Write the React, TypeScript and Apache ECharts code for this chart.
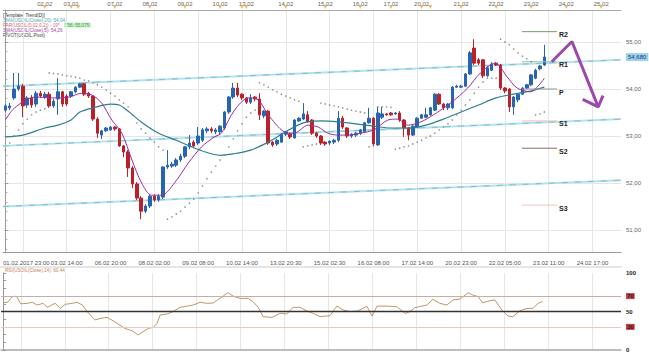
import React, { useEffect, useRef } from "react";
import * as echarts from "echarts";

// ---------- data ----------
const SLOT_COUNT = 141; // candle slots on the time axis (incl. empty future)
const bottomLabels = [
  "01.02.2017 23:00", "03.02 14:00", "06.02 20:00", "08.02 02:00", "09.02 08:00",
  "10.02 14:00", "13.02 20:30", "15.02 02:30", "16.02 08:00", "17.02 14:00",
  "20.02 23:00", "22.02 05:00", "23.02 11:00", "24.02 17:00",
];
const bottomLabelStart = 4;
const bottomLabelStep = 10;
const topLabels = ["02.02", "03.02", "07.02", "08.02", "09.02", "10.02", "13.02", "14.02", "15.02", "16.02", "17.02", "20.02", "21.02", "22.02", "23.02", "24.02", "25.02"];
const topLabelSlots = [9, 15, 25, 33, 41, 49, 55, 64, 73, 81, 88, 95, 104, 112, 120, 128, 136];
const markerSlots = [9, 15, 16.6, 25, 33, 41, 49, 54, 55, 64, 73, 81, 88, 95, 97, 104, 112, 120, 128, 136];

// [open, close, low, high]
const candles = [
  [53.55, 53.64, 53.51, 53.68], [53.60, 53.64, 53.55, 53.70], [53.81, 54.00, 53.77, 54.34], [54.00, 54.06, 53.96, 54.34],
  [54.06, 53.64, 53.40, 54.11], [53.66, 53.81, 53.60, 53.85], [53.81, 53.66, 53.60, 53.87], [53.68, 53.91, 53.62, 53.96],
  [53.91, 53.85, 53.81, 53.96], [53.83, 53.89, 53.79, 53.94], [53.89, 53.64, 53.60, 53.94], [53.64, 53.74, 53.60, 53.79],
  [53.79, 53.94, 53.45, 54.23], [53.94, 53.68, 53.62, 53.96], [53.85, 53.68, 53.64, 53.89], [53.85, 53.94, 53.81, 53.96],
  [53.94, 54.04, 53.91, 54.06], [54.04, 54.11, 54.02, 54.13], [54.11, 53.89, 53.85, 54.13], [53.91, 53.85, 53.81, 53.94],
  [53.85, 53.36, 53.32, 53.87], [53.36, 53.06, 52.96, 53.40], [53.02, 53.11, 52.94, 53.13], [53.11, 53.17, 53.09, 53.19],
  [53.13, 53.19, 53.11, 53.21], [53.19, 53.15, 53.11, 53.21], [53.15, 52.79, 52.77, 53.17], [52.79, 52.66, 52.55, 52.81],
  [52.66, 52.32, 52.13, 52.70], [52.32, 51.98, 51.89, 52.36], [51.98, 51.68, 51.64, 52.02], [51.68, 51.40, 51.23, 51.72],
  [51.40, 51.51, 51.36, 51.55], [51.51, 51.72, 51.47, 51.76], [51.72, 51.64, 51.60, 51.76], [51.64, 51.72, 51.60, 51.76],
  [51.70, 52.34, 51.66, 52.36], [52.34, 52.38, 52.30, 52.70], [52.36, 52.40, 52.32, 52.45], [52.38, 52.49, 52.34, 52.53],
  [52.49, 52.57, 52.45, 52.62], [52.57, 52.77, 52.53, 52.79], [52.77, 52.85, 52.72, 53.02], [52.87, 52.79, 52.74, 52.91],
  [52.85, 53.00, 52.81, 53.19], [52.91, 53.13, 52.87, 53.17], [53.11, 53.15, 53.06, 53.19], [53.15, 53.11, 53.06, 53.19],
  [53.09, 53.13, 53.04, 53.17], [53.09, 53.21, 53.04, 53.23], [53.17, 53.51, 53.13, 53.53], [53.51, 53.83, 53.47, 53.85],
  [53.83, 54.02, 53.79, 54.13], [54.02, 53.87, 53.83, 54.13], [53.89, 53.81, 53.77, 53.91], [53.81, 53.72, 53.68, 53.83],
  [53.72, 53.81, 53.68, 53.89], [53.83, 53.79, 53.74, 53.85], [53.79, 53.45, 53.34, 53.91], [53.43, 53.53, 53.38, 53.55],
  [53.53, 52.85, 52.81, 53.55], [52.87, 52.81, 52.77, 52.89], [52.83, 52.91, 52.79, 52.94], [52.87, 53.04, 52.85, 53.06],
  [53.04, 53.09, 53.00, 53.11], [53.04, 52.98, 52.94, 53.06], [52.96, 53.34, 52.94, 53.36], [53.32, 53.38, 53.30, 53.40],
  [53.36, 53.47, 53.34, 53.70], [53.45, 53.30, 53.28, 53.53], [53.34, 53.06, 53.02, 53.36], [53.06, 53.00, 52.96, 53.09],
  [53.00, 52.85, 52.81, 53.02], [52.87, 52.83, 52.79, 52.89], [52.85, 52.89, 52.81, 52.91], [52.87, 52.91, 52.83, 52.94],
  [52.91, 53.38, 52.87, 53.53], [53.38, 53.19, 53.15, 53.43], [53.17, 53.00, 52.96, 53.19], [53.00, 53.04, 52.96, 53.06],
  [53.02, 53.06, 52.98, 53.09], [53.06, 53.13, 53.02, 53.15], [53.09, 53.28, 53.06, 53.30], [53.28, 53.38, 53.26, 53.60],
  [53.38, 52.83, 52.79, 53.40], [52.81, 53.49, 52.79, 53.62], [53.40, 53.47, 53.36, 53.62], [53.47, 53.45, 53.43, 53.49],
  [53.49, 53.45, 53.43, 53.51], [53.47, 53.49, 53.45, 53.51], [53.49, 53.34, 53.30, 53.53], [53.34, 53.17, 52.98, 53.36],
  [53.17, 53.02, 52.91, 53.19], [53.02, 53.21, 53.00, 53.23], [53.19, 53.38, 53.17, 53.40], [53.38, 53.45, 53.36, 53.47],
  [53.40, 53.45, 53.38, 53.60], [53.45, 53.60, 53.43, 53.62], [53.55, 53.89, 53.53, 53.91], [53.89, 53.68, 53.66, 53.91],
  [53.68, 53.60, 53.55, 53.70], [53.60, 53.68, 53.55, 53.70], [53.60, 54.04, 53.57, 54.06], [54.04, 54.06, 54.02, 54.09],
  [54.04, 54.06, 54.02, 54.09], [54.06, 54.32, 54.04, 54.34], [54.32, 54.77, 54.30, 54.81], [54.87, 54.55, 54.51, 55.06],
  [54.62, 54.55, 54.51, 54.66], [54.62, 54.28, 54.23, 54.64], [54.28, 54.45, 54.26, 54.49], [54.40, 54.53, 54.38, 54.57],
  [54.55, 54.51, 54.49, 54.57], [54.51, 54.02, 53.98, 54.53], [54.02, 53.96, 53.91, 54.04], [54.00, 53.62, 53.51, 54.02],
  [53.62, 53.83, 53.45, 53.85], [53.77, 53.89, 53.72, 53.91], [53.89, 54.02, 53.87, 54.04], [54.02, 54.09, 54.00, 54.11],
  [54.09, 54.30, 54.06, 54.32], [54.23, 54.40, 54.21, 54.43], [54.43, 54.49, 54.40, 54.51], [54.51, 54.68, 54.49, 54.94],
];

// Parabolic SAR, one value per candle
const sar = [
  52.70, 52.85, 53.00, 53.13, 53.26, 53.36, 53.45, 53.51, 53.55, 53.58,
  54.34, 54.33, 54.32, 54.30, 54.28, 54.27, 54.25, 54.23, 54.19, 54.17,
  54.13, 54.09, 54.04, 53.98, 53.91, 53.85, 53.77, 53.70, 53.62, 53.45,
  53.28, 53.15, 53.06, 52.96, 52.87, 52.77, 52.70, 51.23, 51.28, 51.34,
  51.40, 51.49, 51.57, 51.66, 51.79, 51.94, 52.09, 52.23, 52.36, 52.49,
  52.60, 52.77, 52.94, 53.11, 53.26, 53.40, 53.49, 53.55, 54.13, 54.09,
  54.04, 53.98, 53.94, 53.89, 53.85, 53.81, 53.77, 53.74, 52.77, 52.79,
  52.81, 52.83, 53.70, 53.68, 53.66, 53.64, 53.62, 53.60, 53.57, 53.55,
  53.53, 53.51, 53.49, 52.77, 52.79, 53.62, 53.62, 53.62, 53.61, 52.72,
  52.74, 52.77, 52.79, 52.83, 52.87, 52.91, 52.96, 53.00, 53.06, 53.13,
  53.19, 53.26, 53.34, 53.45, 53.55, 53.66, 53.77, 53.91, 54.04, 54.15,
  54.23, 54.23, 54.23, 55.06, 55.00, 54.94, 54.85, 54.77, 54.70, 54.64,
  54.58, 53.45, 53.47, 53.51,
];

// [slot, value]
const sma20 = [
  [0, 52.98], [4, 53.02], [9, 53.17], [12, 53.23], [15, 53.34], [17, 53.51], [20, 53.60], [24, 53.68],
  [26, 53.66], [28, 53.53], [31, 53.30], [35, 53.06], [39, 52.91], [42, 52.79], [45, 52.68], [49, 52.59],
  [52, 52.62], [56, 52.70], [60, 52.87], [64, 53.09], [68, 53.28], [72, 53.32], [76, 53.30], [80, 53.26],
  [84, 53.21], [88, 53.17], [92, 53.17], [96, 53.23], [100, 53.36], [104, 53.51], [108, 53.66], [112, 53.81],
  [116, 53.89], [120, 53.96], [123, 54.04],
];
const sma5 = [
  [0, 53.34], [1.6, 53.55], [3.9, 53.72], [6.8, 53.83], [10.7, 53.81], [14.5, 53.83], [17.5, 53.91], [19.8, 53.87],
  [22, 53.70], [24.3, 53.34], [26.6, 53.06], [28.9, 52.49], [31.1, 52.00], [33.4, 51.74], [35.7, 51.74], [38.6, 52.00],
  [41.8, 52.43], [44.8, 52.77], [47.7, 52.98], [49.3, 53.06], [52.3, 53.55], [55.5, 53.81], [57.7, 53.77], [60, 53.45],
  [63.6, 53.09], [65.9, 53.06], [69.1, 53.23], [71.4, 53.19], [73.6, 53.06], [75.9, 53.02], [78.2, 53.02], [81.1, 53.06],
  [84.1, 53.13], [87.3, 53.34], [89.5, 53.36], [91.8, 53.23], [94.8, 53.30], [97.7, 53.45], [101.6, 53.70], [105.5, 54.02],
  [108.4, 54.34], [111.8, 54.55], [114.5, 54.26], [116.8, 54.02], [119.8, 53.94], [123, 54.23],
];
const rsi = [
  [0, 61.4], [1, 62], [2, 69], [3, 70], [4, 60], [5.5, 60.6], [6.6, 62], [7.7, 58.4], [9.1, 60.6], [10, 55.4],
  [11.8, 60.6], [13, 54.1], [14.1, 59.3], [15.7, 60.6], [16.8, 62], [18, 58.4], [19.1, 49.8], [20.9, 39], [22, 41],
  [23.6, 42.4], [25, 38], [26.1, 33.8], [27.7, 28], [29.3, 25], [30.7, 19.5], [31.8, 23.8], [33, 28], [34.1, 29.4],
  [35, 34.6], [35.7, 45.5], [37.3, 46.8], [38.6, 49.8], [40.2, 55.4], [41.8, 57], [43.2, 58.4], [44.8, 62], [46.4, 60.6],
  [47.7, 61], [49.3, 67.1], [51.1, 74.4], [52.3, 70], [53.9, 67], [55.7, 67], [56.8, 62.8], [58, 55.4], [59.1, 43.3],
  [61.1, 42.4], [63, 47.6], [64.5, 46.8], [65.9, 55.4], [67.5, 55.4], [69.1, 50.6], [70.5, 47.6], [72, 43.3], [74.3, 44.6],
  [75.9, 57], [77.3, 52], [78.9, 49.8], [80.5, 50.6], [81.8, 54], [82.7, 57], [83.9, 44], [85, 57], [87.3, 57], [89.5, 56.3],
  [91.4, 47.6], [92.5, 49.8], [93.6, 55], [96.4, 58.4], [97.7, 65.8], [99.3, 60.6], [100.9, 58.4], [102.3, 65], [103.9, 66.2],
  [105.7, 74.4], [106.8, 71.4], [108, 69.3], [109, 61.4], [110.7, 64], [111.8, 65], [113.4, 52], [114.8, 44], [115.9, 43.3],
  [117.5, 51], [119.1, 54], [120.5, 54], [121.6, 60.6], [122.7, 63],
];
const rsiLevels = [70, 50, 30];

// regression channel: value at first and last slot
const channelUpper = [54.06, 54.62];
const channelMiddle = [52.79, 53.36];
const channelLower = [51.50, 52.06];

// pivot levels
const pivotNames = ["R2", "R1", "P", "S1", "S2", "S3"];
const pivotValues = [55.22, 54.58, 54.0, 53.32, 52.74, 51.53];
const pivotColors = ["#6f9d6f", "#9cc49c", "#8a9a8a", "#f0b8b8", "#8c6e66", "#f3c2c2"];
const pivotSpan = [117.9, 125.9];

// forecast arrow drawn on the chart
const forecastLine = [[124.7, 54.58], [129.3, 55.01], [135.3, 53.62]];
const forecastHead = [[131.75, 53.78], [135.3, 53.62], [136.4, 53.86]];

const Y_MIN = 50.532;
const Y_MAX = 55.681;

const FONT = "Liberation Sans, Arial, sans-serif";
const fmt = (v: number, d = 2) => v.toFixed(d).replace(".", ",");
const isBottomSlot = (i: number) => i >= bottomLabelStart && (i - bottomLabelStart) % bottomLabelStep === 0;

export default function App() {
  const ref = useRef<HTMLDivElement>(null);

  useEffect(() => {
    if (!ref.current) return;
    const chart = echarts.init(ref.current, undefined, { renderer: "svg" });
    const cats = Array.from({ length: SLOT_COUNT }, (_, i) => String(i));
    const lastSlot = SLOT_COUNT - 0.5;
    const lastClose = candles[candles.length - 1][1];

    const channelSeries = (vals: number[]) => [
      {
        type: "line", xAxisIndex: 2, yAxisIndex: 0, symbol: "none", silent: true, z: 1,
        data: [[-0.5, vals[0]], [lastSlot, vals[1]]],
        lineStyle: { color: "#b4e2ee", width: 2 },
      },
      {
        type: "line", xAxisIndex: 2, yAxisIndex: 0, symbol: "none", silent: true, z: 1,
        data: [[-0.5, vals[0]], [lastSlot, vals[1]]],
        lineStyle: { color: "#74b4c2", width: 0.8, type: [6, 7] },
      },
    ];

    const pivotSeries = pivotNames.map((name, k) => ({
      type: "line", xAxisIndex: 2, yAxisIndex: 0, symbol: "none", silent: true, z: 4,
      data: [[pivotSpan[0], pivotValues[k]], [pivotSpan[1], pivotValues[k]]],
      lineStyle: { color: pivotColors[k], width: 1 },
      endLabel: {
        show: true, formatter: name, color: "#222", fontWeight: "bold", fontSize: 7,
        fontFamily: FONT, distance: 2, offset: [0, 3],
      },
    }));

    const option: any = {
      animation: false,
      backgroundColor: "#ffffff",
      textStyle: { fontFamily: FONT },
      grid: [
        { left: 1, right: 28, top: 10, bottom: 103 },
        { left: 1, right: 28, top: 273, bottom: 5 },
      ],
      xAxis: [
        {
          type: "category", gridIndex: 0, position: "bottom", data: cats, boundaryGap: true,
          axisLine: { onZero: false, lineStyle: { color: "#9a9a9a" } },
          axisTick: { interval: 1, length: 2, lineStyle: { color: "#9a9a9a" } },
          axisLabel: {
            interval: (i: number) => isBottomSlot(i),
            showMinLabel: true,
            formatter: (_v: string, i: number) => {
              const t = bottomLabels[(i - bottomLabelStart) / bottomLabelStep] || "";
              return i === bottomLabelStart ? `{f|${t}}` : t;
            },
            rich: { f: { padding: [0, 0, 0, 7], fontSize: 6, color: "#555" } },
            fontSize: 6, color: "#555", margin: 8,
          },
          splitLine: { show: true, interval: (i: number) => isBottomSlot(i), alignWithLabel: true, lineStyle: { color: "#e6e6e6" } },
        },
        {
          type: "category", gridIndex: 0, position: "top", data: cats, boundaryGap: true,
          axisLine: { onZero: false, lineStyle: { color: "#aaaaaa" } },
          axisTick: { interval: 0, length: 2, alignWithLabel: true, lineStyle: { color: "#aaaaaa" } },
          axisLabel: {
            interval: (i: number) => topLabelSlots.includes(i),
            formatter: (_v: string, i: number) => topLabels[topLabelSlots.indexOf(i)] || "",
            fontSize: 6, color: "#666", margin: 3,
          },
          splitLine: { show: false },
        },
        { type: "value", gridIndex: 0, min: -0.5, max: lastSlot, show: false },
        {
          type: "category", gridIndex: 0, position: "bottom", data: cats, boundaryGap: true,
          axisLine: { show: false, onZero: false },
          axisTick: { interval: (i: number) => isBottomSlot(i), length: 5, alignWithLabel: true, lineStyle: { color: "#8a8a8a" } },
          axisLabel: { show: false }, splitLine: { show: false },
        },
        {
          type: "category", gridIndex: 1, position: "bottom", data: cats, boundaryGap: true,
          axisLine: { onZero: false, lineStyle: { color: "#a8a8a8", width: 1.5 } },
          axisTick: { show: false }, axisLabel: { show: false },
          splitLine: { show: true, interval: (i: number) => isBottomSlot(i), alignWithLabel: true, lineStyle: { color: "#e6e6e6" } },
        },
        { type: "value", gridIndex: 1, min: -0.5, max: lastSlot, show: false },
      ],
      yAxis: [
        {
          type: "value", gridIndex: 0, position: "right", min: Y_MIN, max: Y_MAX, splitNumber: 5,
          axisLine: { show: true, lineStyle: { color: "#9a9a9a" } },
          axisTick: { show: true, length: 3, lineStyle: { color: "#9a9a9a" } },
          minorTick: { show: true, splitNumber: 5, length: 2, lineStyle: { color: "#aaaaaa" } },
          axisLabel: { formatter: (v: number) => fmt(v), fontSize: 6, color: "#666", margin: 5, showMinLabel: false, showMaxLabel: false },
          splitLine: { show: true, lineStyle: { color: "#e6e6e6" } },
        },
        {
          type: "value", gridIndex: 1, position: "right", min: 0, max: 100, interval: 10,
          axisLine: { show: true, lineStyle: { color: "#9a9a9a" } },
          axisTick: { show: true, length: 3, lineStyle: { color: "#9a9a9a" } },
          axisLabel: {
            margin: 5,
            formatter: (v: number) => {
              if (v === 70 || v === 30) return `{r|${v}}`;
              if (v === 100 || v === 50 || v === 0) return `{b|${v}}`;
              return "";
            },
            rich: {
              b: { fontWeight: "bold", color: "#222", fontSize: 6 },
              r: { fontWeight: "bold", color: "#222", fontSize: 6, backgroundColor: "#d14040", padding: [0, 1] },
            },
          },
          splitLine: { show: false },
        },
      ],
      series: [
        ...channelSeries(channelUpper),
        ...channelSeries(channelMiddle),
        ...channelSeries(channelLower),
        {
          type: "candlestick", xAxisIndex: 0, yAxisIndex: 0, data: candles, barWidth: 3, z: 3,
          itemStyle: { color: "#2765b0", color0: "#bb2129", borderColor: "#2765b0", borderColor0: "#bb2129", borderWidth: 1 },
          markLine: {
            silent: true, symbol: "none",
            lineStyle: { color: "rgba(0,0,0,0)", width: 0 },
            label: {
              show: true, position: "end", formatter: fmt(lastClose, 3), distance: 5,
              backgroundColor: "#9dd2ee", color: "#173a68", fontSize: 6, padding: [1, 2],
            },
            data: [{ yAxis: lastClose }],
          },
        },
        {
          type: "line", xAxisIndex: 2, yAxisIndex: 0, symbol: "none", smooth: 0.3, z: 4, silent: true,
          data: sma20, lineStyle: { color: "#2b7f90", width: 1.2 },
        },
        {
          type: "line", xAxisIndex: 2, yAxisIndex: 0, symbol: "none", smooth: 0.3, z: 4, silent: true,
          data: sma5, lineStyle: { color: "#9b2fa0", width: 1 },
        },
        {
          type: "scatter", xAxisIndex: 2, yAxisIndex: 0, symbolSize: 1.6, z: 4, silent: true,
          data: sar.map((v, i) => [i, v]), itemStyle: { color: "#7a7a7a" },
        },
        ...pivotSeries,
        {
          type: "line", xAxisIndex: 2, yAxisIndex: 0, symbol: "none", z: 5, silent: true,
          data: forecastLine, lineStyle: { color: "#9a4aac", width: 3 },
        },
        {
          type: "line", xAxisIndex: 2, yAxisIndex: 0, symbol: "none", z: 5, silent: true,
          data: forecastHead, lineStyle: { color: "#9a4aac", width: 3 },
        },
        {
          type: "scatter", xAxisIndex: 2, yAxisIndex: 0, clip: false, silent: true, z: 6,
          symbol: "triangle", symbolRotate: 180, symbolSize: [4, 4], symbolOffset: [0, -3],
          data: markerSlots.map((s) => [s, Y_MAX]), itemStyle: { color: "#e3a93a" },
        },
        {
          type: "line", xAxisIndex: 5, yAxisIndex: 1, symbol: "none", silent: true, z: 4,
          data: rsi, lineStyle: { color: "#b07a45", width: 0.8 },
          markLine: {
            silent: true, symbol: "none", label: { show: false },
            data: rsiLevels.map((lv) => ({
              yAxis: lv,
              lineStyle: {
                type: "solid",
                color: lv === 50 ? "#333333" : lv === 70 ? "#c9aca4" : "#f2c6c0",
                width: lv === 50 ? 1.3 : 1,
              },
            })),
          },
        },
      ],
      graphic: [
        { type: "line", shape: { x1: 0, y1: 267, x2: 622, y2: 267 }, style: { stroke: "#cccccc", lineWidth: 1 }, silent: true },
        { type: "rect", shape: { x: 64, y: 22.5, width: 27, height: 5 }, style: { fill: "#c9f1c9" }, silent: true },
        { type: "text", x: 3, y: 15, style: { text: "[Template: Trend(D)]", fill: "#333", font: `4.6px ${FONT}`, textVerticalAlign: "middle" } },
        { type: "text", x: 3, y: 20, style: { text: "SMA(USOIL(Close),20): 54,04", fill: "#4aa6b6", font: `4.6px ${FONT}`, textVerticalAlign: "middle" } },
        { type: "text", x: 3, y: 25, style: { text: "PAR(USOIL(0.02,0.2)) - 19*", fill: "#d06a6a", font: `4.6px ${FONT}`, textVerticalAlign: "middle" } },
        { type: "text", x: 65, y: 25, style: { text: "756: 55,075", fill: "#4a9a4a", font: `4.6px ${FONT}`, textVerticalAlign: "middle" } },
        { type: "text", x: 3, y: 30, style: { text: "SMA(USOIL(Close),5): 54,26", fill: "#a040a0", font: `4.6px ${FONT}`, textVerticalAlign: "middle" } },
        { type: "text", x: 3, y: 35, style: { text: "PIVOT(USOIL,Pivot)", fill: "#444", font: `4.6px ${FONT}`, textVerticalAlign: "middle" } },
        { type: "text", x: 5, y: 270, style: { text: "RSI(USOIL(Close),14): 60,44", fill: "#c47e5a", font: `4.6px ${FONT}`, textVerticalAlign: "middle" } },
      ],
    };

    chart.setOption(option);
    return () => chart.dispose();
  }, []);

  return (
    <div
      ref={ref}
      style={{ position: "fixed", left: 0, top: 0, width: 649, height: 355, background: "#fff" }}
    />
  );
}
